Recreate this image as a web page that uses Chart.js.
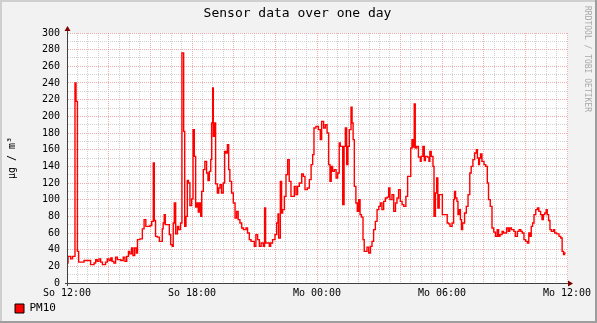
<!DOCTYPE html>
<html>
<head>
<meta charset="utf-8">
<script src="https://cdn.jsdelivr.net/npm/chart.js@4/dist/chart.umd.min.js"></script>
<style>
  html, body { margin: 0; padding: 0; background: #f2f2f2; }
  canvas { display: block; }
</style>
</head>
<body>
<canvas id="c" width="597" height="323"></canvas>
<script>
// ---- Data (minutes since Sunday 12:00, PM10 in µg/m³) ----
const minutes = [0,3,10.6,16,23,26,30,33.6,49,68,78,82.6,87,92,97,102,111,116,121,126,130,135,140,145,155,162,167,172,177,181,186,190,195,200,203,210,217,222,227,239,244,248.6,251.5,255,260,266,274.5,277,280,283,294.7,298.5,303,306,309,313,318,321.6,327,331,336,339,342.7,346.5,350,354,359,363,366.7,370.5,374,378,381,385,388,392.6,397,402,406,410,414,416.6,419.5,421.4,425,428,433,437,440.6,445,450,454,458,462,465.6,469,474,479,484,488.6,493,498,503,508,515.5,520,525,530,539.5,544,549,554,559,565.4,569,572,582.7,586.5,592,599,604,607.7,609.6,614.4,618,621,626,630.7,635.5,640,645,654.7,659.5,664,669,676,680.6,685.4,692,698,703,707.5,711.3,717,724,729.6,733.4,739,744,749,753.6,757.4,761,765,770,775,779.5,784,787,794,798,801.6,805.4,809,813,818,821,824,827.5,832,836,840,844,848,852.5,856,864,869,874,878.4,883,888,893,898,902.4,907,912,917,922,926.4,930,936,941,946,950.4,955,960,965,970,976,981,990,993.5,997,1000,1003,1007,1012,1017.5,1020,1025,1029,1032,1038,1042.5,1045,1049,1054,1057,1061,1064.6,1068,1072,1081,1095,1099,1103,1109,1113.5,1116,1119,1123,1126,1129,1133,1136,1139.4,1145,1150,1155,1160,1164,1169,1174,1179,1182,1185.5,1188,1191,1195,1201,1206,1210.5,1214,1219,1224,1229,1234,1239,1243,1247,1253,1257,1266,1271,1275,1280,1287,1291,1297,1302,1307,1311,1316,1321,1326,1330,1333.5,1337,1341,1345,1350,1355,1359,1364,1368,1372,1376,1380,1383,1387,1391,1395,1401,1404.5,1410,1417,1422,1426,1430,1433,1436];
const pm10 = [24,32,29,32,240,218,38,25,27,22,24,28,26,29,25,22,25,29,27,30,26,24,31,28,27,31,26,32,38,35,42,33,42,36,52,53,65,76,68,69,74,144,75,56,55,50,65,72,82,70,58,46,44,72,96,59,68,64,72,276,182,68,80,123,120,93,101,184,152,91,96,85,96,80,110,136,146,132,123,134,148,192,234,176,192,119,108,114,118,108,120,158,156,166,136,122,108,96,78,86,76,72,66,64,66,60,52,50,44,58,52,44,48,44,90,48,44,48,52,58,72,83,54,122,84,88,104,130,148,122,104,116,106,116,120,131,128,112,114,124,142,154,186,188,184,172,194,186,190,180,142,122,140,134,136,126,132,168,164,94,164,186,142,164,184,211,192,172,116,96,86,100,82,79,52,38,43,36,44,50,64,74,88,92,96,88,98,102,103,114,100,106,86,96,102,112,98,94,92,104,128,162,172,163,215,162,164,151,146,152,164,147,152,151,146,158,152,140,80,108,126,90,106,82,72,71,68,72,100,110,102,98,82,88,76,64,72,84,92,106,132,140,148,156,160,150,142,150,155,146,142,140,120,100,92,66,61,56,64,56,58,62,60,66,62,66,64,62,56,62,64,62,60,52,50,48,60,56,68,72,82,88,90,86,82,76,82,84,88,82,75,64,62,64,60,59,56,54,38,34,36,36];

const xTickLabels = {0: 'So 12:00', 360: 'So 18:00', 720: 'Mo 00:00', 1080: 'Mo 06:00', 1440: 'Mo 12:00'};
const yTickStep = 10;
const yLabelStep = 20;
const xTickStep = 30;
const xMajorStep = 120;

const FONT = 'DejaVu Sans Mono';
const GRID = 'rgba(191,191,191,0.7)';
const MGRID = 'rgba(230,128,128,0.65)';
const AXIS = '#404040';
const ARROW = '#800000';

const rrdFrame = {
  id: 'rrdFrame',
  beforeDraw(chart) {
    const {ctx, width, height, chartArea: a} = chart;
    ctx.save();
    ctx.fillStyle = '#f2f2f2';
    ctx.fillRect(0, 0, width, height);
    ctx.fillStyle = '#cfcfcf';
    ctx.fillRect(0, 0, width, 2);
    ctx.fillRect(0, 0, 2, height);
    ctx.fillStyle = '#9e9e9e';
    ctx.fillRect(0, height - 2, width, 2);
    ctx.fillRect(width - 2, 0, 2, height);
    ctx.fillStyle = '#ffffff';
    ctx.fillRect(a.left, a.top, a.right - a.left + 1, a.bottom - a.top);
    ctx.restore();
  },
  afterDraw(chart) {
    const {ctx, width, chartArea: a} = chart;
    ctx.save();
    ctx.strokeStyle = AXIS;
    ctx.lineWidth = 1;
    const x0 = Math.round(a.left) + 0.5;
    const y0 = Math.round(a.bottom) + 0.5;
    ctx.beginPath();
    ctx.moveTo(x0, a.bottom + 3);
    ctx.lineTo(x0, a.top - 4);
    ctx.moveTo(a.left - 2, y0);
    ctx.lineTo(a.right + 3, y0);
    ctx.stroke();
    ctx.fillStyle = ARROW;
    ctx.beginPath();
    ctx.moveTo(x0, a.top - 7);
    ctx.lineTo(x0 - 3, a.top - 2);
    ctx.lineTo(x0 + 3, a.top - 2);
    ctx.closePath();
    ctx.fill();
    ctx.beginPath();
    ctx.moveTo(a.right + 6, y0);
    ctx.lineTo(a.right + 1, y0 - 3);
    ctx.lineTo(a.right + 1, y0 + 3);
    ctx.closePath();
    ctx.fill();
    ctx.translate(width - 10, 6);
    ctx.rotate(Math.PI / 2);
    ctx.fillStyle = '#a8a8a8';
    ctx.font = '8px "' + FONT + '"';
    ctx.textAlign = 'left';
    ctx.textBaseline = 'middle';
    ctx.fillText('RRDTOOL / TOBI OETIKER', 0, 0);
    ctx.restore();
  }
};

new Chart(document.getElementById('c'), {
  type: 'line',
  plugins: [rrdFrame],
  data: {
    datasets: [{
      label: 'PM10',
      data: minutes.map((t, i) => ({x: t, y: pm10[i]})),
      borderColor: '#ff0000',
      backgroundColor: '#ff0000',
      borderWidth: 1.4,
      pointRadius: 0,
      stepped: 'before',
      fill: false
    }]
  },
  options: {
    responsive: false,
    devicePixelRatio: 1,
    animation: false,
    events: [],
    layout: { padding: { left: 11, right: 13, top: 0, bottom: -1 } },
    plugins: {
      tooltip: { enabled: false },
      title: {
        display: true,
        text: 'Sensor data over one day',
        color: '#000',
        font: { family: FONT, size: 13, weight: 'normal' },
        padding: { top: 6, bottom: 11.4 }
      },
      legend: {
        display: true,
        position: 'bottom',
        align: 'start',
        labels: {
          boxWidth: 9,
          boxHeight: 9,
          padding: 4,
          color: '#000',
          font: { family: FONT, size: 11 },
          generateLabels(chart) {
            const items = Chart.defaults.plugins.legend.labels.generateLabels(chart);
            items.forEach(it => { it.strokeStyle = '#000'; it.lineWidth = 1; it.fillStyle = '#ff0000'; });
            return items;
          }
        }
      }
    },
    scales: {
      x: {
        type: 'linear',
        min: 0,
        max: 1440,
        afterFit(s) { s.height = 16; },
        ticks: {
          stepSize: xTickStep,
          autoSkip: false,
          maxRotation: 0,
          minRotation: 0,
          padding: 4,
          color: '#000',
          font: { family: FONT, size: 10 },
          callback: v => xTickLabels[v] || ''
        },
        grid: {
          drawTicks: false,
          lineWidth: 1,
          color: c => (c.tick && c.tick.value % xMajorStep === 0) ? MGRID : GRID
        },
        border: { display: true, color: AXIS, dash: [1, 1] }
      },
      y: {
        type: 'linear',
        min: 0,
        max: 300,
        afterFit(s) { s.width = 56; },
        title: {
          display: true,
          text: 'µg / m³',
          color: '#000',
          font: { family: FONT, size: 10 },
          padding: { top: -5, bottom: 0 }
        },
        ticks: {
          stepSize: yTickStep,
          autoSkip: false,
          padding: 7,
          color: '#000',
          font: { family: FONT, size: 10 },
          callback: v => (v % yLabelStep === 0) ? String(v) : ''
        },
        grid: {
          drawTicks: false,
          lineWidth: 1,
          color: c => (c.tick && c.tick.value % yLabelStep === 0) ? MGRID : GRID
        },
        border: { display: true, color: AXIS, dash: [1, 1] }
      },
      rightGutter: {
        type: 'linear',
        position: 'right',
        min: 0,
        max: 300,
        afterFit(s) { s.width = 17; },
        ticks: { display: false },
        grid: { display: false, drawOnChartArea: false },
        border: { display: false }
      }
    }
  }
});
</script>
</body>
</html>
